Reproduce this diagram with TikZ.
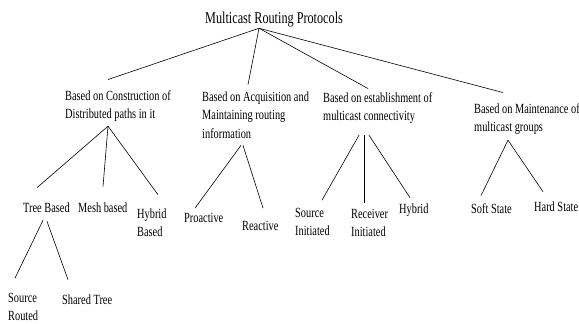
\documentclass[tikz,border=0pt]{standalone}
\usepackage{fontspec}
\setmainfont[FakeStretch=0.74]{Liberation Serif}
\usetikzlibrary{arrows}
\tikzstyle{txt}=[anchor=base west,inner sep=0pt,align=left,font=\fontsize{14}{18.5}\selectfont]
\tikzstyle{branch}=[black,line width=0.6pt]

\begin{document}
\begin{tikzpicture}[x=1pt,y=-1pt]
\useasboundingbox (0,0) rectangle (579,324);
\node[txt,font=\fontsize{16.5}{20}\selectfont] (mrp) at (205,23.5) {Multicast Routing Protocols};
\node[txt] (constr) at (65,118.5) {Based on Construction of\\Distributed paths in it};
\node[txt] (acq) at (202,138) {Based on Acquisition and\\Maintaining routing\\information};
\node[txt] (estab) at (323,120.5) {Based on establishment of\\multicast connectivity};
\node[txt] (maint) at (474,131.5) {Based on Maintenance of\\multicast groups};
\node[txt] (tree) at (23,212) {Tree Based};
\node[txt] (mesh) at (78,212) {Mesh based};
\node[txt] (hyba) at (137,236.5) {Hybrid\\Based};
\node[txt] (proact) at (184,222) {Proactive};
\node[txt] (react) at (242,230) {Reactive};
\node[txt] (srci) at (295,235.5) {Source\\Initiated};
\node[txt] (rcvi) at (351,236.5) {Receiver\\Initiated};
\node[txt] (hybb) at (399,213) {Hybrid};
\node[txt] (soft) at (471,213) {Soft State};
\node[txt] (hard) at (534,211) {Hard State};
\node[txt] (srcr) at (8,320.5) {Source\\Routed};
\node[txt] (shared) at (62,304) {Shared Tree};
% root
\draw[branch] ([shift={(54pt,-1pt)}]mrp.south west) -- ([shift={(43pt,10.4pt)}]constr.north west);
\draw[branch] ([shift={(54pt,-1pt)}]mrp.south west) -- ([shift={(46pt,6.4pt)}]acq.north west);
\draw[branch] ([shift={(54pt,-1pt)}]mrp.south west) -- ([shift={(45pt,3.4pt)}]estab.north west);
\draw[branch] ([shift={(54pt,-1pt)}]mrp.south west) -- ([shift={(29pt,10.4pt)}]maint.north west);
% construction
\draw[branch] ([shift={(43pt,-4.5pt)}]constr.south west) -- ([shift={(14pt,14.4pt)}]tree.north west);
\draw[branch] ([shift={(43pt,-4.5pt)}]constr.south west) -- ([shift={(25pt,15.4pt)}]mesh.north west);
\draw[branch] ([shift={(43pt,-4.5pt)}]constr.south west) -- ([shift={(21pt,13.4pt)}]hyba.north west);
\draw[branch] ([shift={(20pt,-8pt)}]tree.south west) -- ([shift={(7pt,14.4pt)}]srcr.north west);
\draw[branch] ([shift={(24pt,-9pt)}]tree.south west) -- ([shift={(6pt,14.4pt)}]shared.north west);
% acquisition
\draw[branch] ([shift={(39pt,-7pt)}]acq.south west) -- ([shift={(11pt,4.4pt)}]proact.north west);
\draw[branch] ([shift={(41pt,-7pt)}]acq.south west) -- ([shift={(21pt,12.4pt)}]react.north west);
% establishment
\draw[branch] ([shift={(36pt,-11.5pt)}]estab.south west) -- ([shift={(27pt,7.4pt)}]srci.north west);
\draw[branch] ([shift={(41pt,-11.5pt)}]estab.south west) -- ([shift={(13pt,5.4pt)}]rcvi.north west);
\draw[branch] ([shift={(46pt,-11.5pt)}]estab.south west) -- ([shift={(11pt,5.4pt)}]hybb.north west);
% maintenance
\draw[branch] ([shift={(34pt,-5.5pt)}]maint.south west) -- ([shift={(10pt,7.4pt)}]soft.north west);
\draw[branch] ([shift={(34pt,-5.5pt)}]maint.south west) -- ([shift={(9pt,9.4pt)}]hard.north west);
\end{tikzpicture}
\end{document}
